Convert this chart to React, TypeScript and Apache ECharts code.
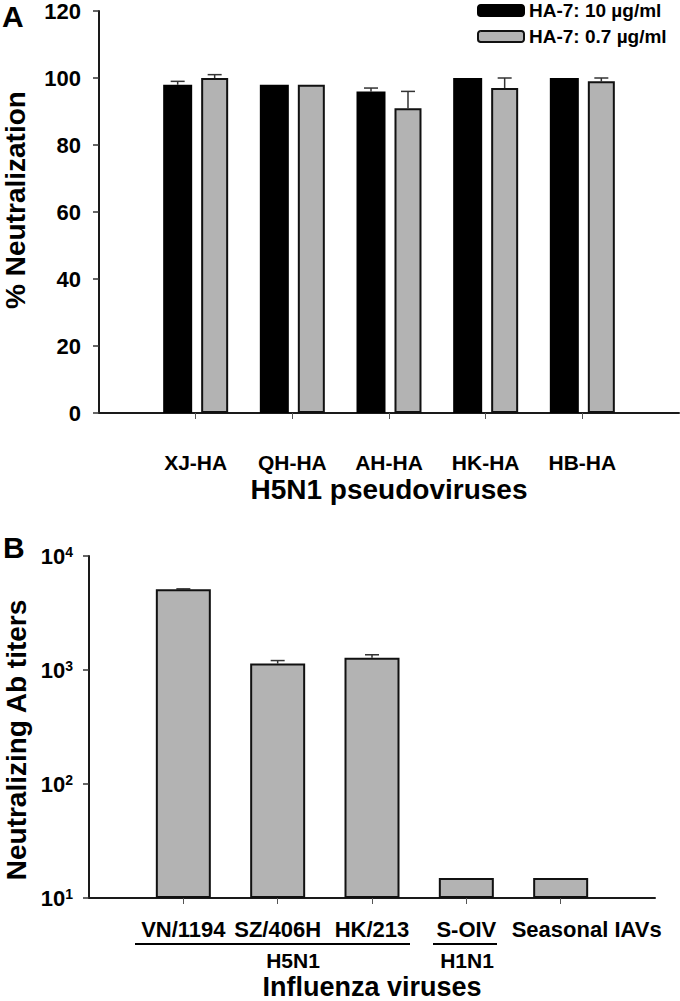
import React, { useEffect, useRef } from "react";
import * as echarts from "echarts";

// ---------- Panel A data ----------
const pseudoviruses = ["XJ-HA", "QH-HA", "AH-HA", "HK-HA", "HB-HA"];
const highDose = [98, 98, 96, 100, 100];
const highDoseErr = [1, 0, 1, 0, 0];
const lowDose = [100, 98, 91, 97, 99];
const lowDoseErr = [1, 0, 5, 3, 1];
const highDoseName = "HA-7: 10 µg/ml";
const lowDoseName = "HA-7: 0.7 µg/ml";
const panelAMin = 0;
const panelAMax = 120;
const panelAInterval = 20;

// ---------- Panel B data ----------
const influenzaViruses = ["VN/1194", "SZ/406H", "HK/213", "S-OIV", "Seasonal IAVs"];
const titers = [5120, 1140, 1280, 15, 15];
const titerErr = [30, 70, 80, 0, 0];
const panelBMin = 10;
const panelBMax = 10000;

const FONT = "'Liberation Sans', Arial, Helvetica, sans-serif";
const AXIS_COLOR = "#1a1a1a";
const GRAY = "#B3B3B3";

// categories padded with empty slots at both ends (axis spans 0..6)
const padCats = (c: string[]) => ["", ...c, ""];

function errSeries(
  values: number[],
  errs: number[],
  offset: number,
  xAxisIndex: number,
  yAxisIndex: number
) {
  return {
    type: "custom",
    xAxisIndex,
    yAxisIndex,
    z: 1,
    silent: true,
    encode: { x: 0, y: 1 },
    data: values.map((v, i) => [i + 1, v, errs[i]]),
    renderItem: (params: any, api: any) => {
      const idx = api.value(0);
      const v = api.value(1);
      const e = api.value(2);
      if (!e) return { type: "group", children: [] };
      const p0 = api.coord([idx, v]);
      const p1 = api.coord([idx, v + e]);
      const x = p0[0] + offset;
      const style = { stroke: "#333", lineWidth: 1.5 };
      return {
        type: "group",
        children: [
          { type: "line", shape: { x1: x, y1: p0[1], x2: x, y2: p1[1] }, style },
          { type: "line", shape: { x1: x - 7, y1: p1[1], x2: x + 7, y2: p1[1] }, style },
        ],
      };
    },
  };
}

export default function App() {
  const ref = useRef<HTMLDivElement>(null);

  useEffect(() => {
    if (!ref.current) return;
    const chart = echarts.init(ref.current, undefined, { renderer: "svg" });

    const blackW = 29;
    const grayW = 27;
    const gap = 0.31;
    const total = blackW * (1 + gap) + grayW;
    const blackOff = -total / 2 + blackW / 2;
    const grayOff = -total / 2 + blackW * (1 + gap) + grayW / 2;

    const tickShow = (i: number) => i > 0 && i < 6;

    const option: any = {
      animation: false,
      backgroundColor: "#fff",
      textStyle: { fontFamily: FONT },
      grid: [
        { left: 99, top: 7, width: 580, height: 406 },
        { left: 89, top: 556, width: 566, height: 346 },
      ],
      legend: {
        orient: "vertical",
        left: 477,
        top: 1,
        padding: 0,
        itemWidth: 46,
        itemHeight: 11,
        itemGap: 7,
        itemStyle: { borderWidth: 2 },
        textStyle: { fontFamily: FONT, fontWeight: "bold", fontSize: 19, color: "#000" },
        data: [highDoseName, lowDoseName],
      },
      xAxis: [
        {
          type: "category",
          gridIndex: 0,
          boundaryGap: false,
          data: padCats(pseudoviruses),
          axisLine: { lineStyle: { color: AXIS_COLOR, width: 2 } },
          axisTick: { show: true, interval: tickShow, length: 6, lineStyle: { color: "#555", width: 1 } },
          axisLabel: {
            interval: tickShow,
            margin: 39,
            fontFamily: FONT,
            fontWeight: "bold",
            fontSize: 21,
            color: "#000",
          },
          name: "H5N1 pseudoviruses",
          nameLocation: "middle",
          nameGap: 62,
          nameTextStyle: { fontFamily: FONT, fontWeight: "bold", fontSize: 28, color: "#000" },
          splitLine: { show: false },
        },
        {
          type: "category",
          gridIndex: 1,
          boundaryGap: false,
          data: padCats(influenzaViruses),
          axisLine: { lineStyle: { color: AXIS_COLOR, width: 2 } },
          axisTick: { show: true, interval: tickShow, length: 6, lineStyle: { color: "#555", width: 1 } },
          axisLabel: {
            interval: tickShow,
            margin: 20,
            fontFamily: FONT,
            fontWeight: "bold",
            fontSize: 22,
            color: "#000",
            formatter: (v: string) => (v === "Seasonal IAVs" ? "{o|" + v + "}" : v),
            rich: {
              o: {
                fontFamily: FONT,
                fontWeight: "bold",
                fontSize: 22,
                color: "#000",
                padding: [0, 0, 0, 52],
              },
            },
          },
          name: "Influenza viruses",
          nameLocation: "middle",
          nameGap: 75,
          nameTextStyle: { fontFamily: FONT, fontWeight: "bold", fontSize: 27, color: "#000" },
          splitLine: { show: false },
        },
      ],
      yAxis: [
        {
          type: "value",
          gridIndex: 0,
          min: panelAMin,
          max: panelAMax,
          interval: panelAInterval,
          axisLine: { show: true, lineStyle: { color: AXIS_COLOR, width: 2 } },
          axisTick: { show: true, length: 6, lineStyle: { color: "#333", width: 1.5 } },
          axisLabel: { margin: 18, fontFamily: FONT, fontWeight: "bold", fontSize: 22, color: "#000" },
          splitLine: { show: false },
        },
        {
          type: "log",
          logBase: 10,
          gridIndex: 1,
          min: panelBMin,
          max: panelBMax,
          startValue: panelBMin,
          axisLine: { show: true, lineStyle: { color: AXIS_COLOR, width: 2 } },
          axisTick: { show: true, length: 6, lineStyle: { color: "#333", width: 1.5 } },
          minorTick: { show: false },
          axisLabel: {
            margin: 16,
            formatter: (v: number) => "{b|10}{s|" + Math.round(Math.log10(v)) + "}",
            rich: {
              b: { fontFamily: FONT, fontWeight: "bold", fontSize: 22, color: "#000" },
              s: { fontFamily: FONT, fontWeight: "bold", fontSize: 14, color: "#000", verticalAlign: "top" },
            },
          },
          splitLine: { show: false },
        },
      ],
      series: [
        {
          name: highDoseName,
          type: "bar",
          xAxisIndex: 0,
          yAxisIndex: 0,
          z: 2,
          barWidth: blackW,
          barGap: gap * 100 + "%",
          data: highDose.map((v, i) => [i + 1, v]),
          itemStyle: { color: "#000", borderColor: "#000", borderWidth: 0 },
        },
        {
          name: lowDoseName,
          type: "bar",
          xAxisIndex: 0,
          yAxisIndex: 0,
          z: 2,
          barWidth: grayW,
          barGap: gap * 100 + "%",
          data: lowDose.map((v, i) => [i + 1, v]),
          itemStyle: { color: GRAY, borderColor: "#111", borderWidth: 2 },
        },
        errSeries(highDose, highDoseErr, blackOff, 0, 0),
        errSeries(lowDose, lowDoseErr, grayOff, 0, 0),
        {
          name: "titers",
          type: "bar",
          xAxisIndex: 1,
          yAxisIndex: 1,
          z: 2,
          clip: true,
          barWidth: 55,
          data: titers.map((v, i) => [i + 1, v]),
          itemStyle: { color: GRAY, borderColor: "#111", borderWidth: 2 },
        },
        errSeries(titers, titerErr, 0, 1, 1),
      ],
      graphic: [
        {
          type: "text",
          left: 2,
          top: 1,
          style: { text: "A", fontFamily: FONT, fontWeight: "bold", fontSize: 30, fill: "#000" },
        },
        {
          type: "text",
          left: 3,
          top: 532,
          style: { text: "B", fontFamily: FONT, fontWeight: "bold", fontSize: 30, fill: "#000" },
        },
        {
          type: "text",
          x: 15,
          y: 200,
          rotation: Math.PI / 2,
          style: {
            text: "% Neutralization",
            fontFamily: FONT,
            fontWeight: "bold",
            fontSize: 28,
            fill: "#000",
            align: "center",
            verticalAlign: "middle",
          },
        },
        {
          type: "text",
          x: 16,
          y: 740,
          rotation: Math.PI / 2,
          style: {
            text: "Neutralizing Ab titers",
            fontFamily: FONT,
            fontWeight: "bold",
            fontSize: 28,
            fill: "#000",
            align: "center",
            verticalAlign: "middle",
          },
        },
        {
          type: "line",
          shape: { x1: 135, y1: 944, x2: 410, y2: 944 },
          style: { stroke: "#000", lineWidth: 2 },
        },
        {
          type: "line",
          shape: { x1: 433, y1: 944, x2: 497, y2: 944 },
          style: { stroke: "#000", lineWidth: 2 },
        },
        {
          type: "text",
          x: 293,
          y: 960,
          style: {
            text: "H5N1",
            fontFamily: FONT,
            fontWeight: "bold",
            fontSize: 21,
            fill: "#000",
            align: "center",
            verticalAlign: "middle",
          },
        },
        {
          type: "text",
          x: 467,
          y: 960,
          style: {
            text: "H1N1",
            fontFamily: FONT,
            fontWeight: "bold",
            fontSize: 21,
            fill: "#000",
            align: "center",
            verticalAlign: "middle",
          },
        },
      ],
    };

    chart.setOption(option);
    return () => chart.dispose();
  }, []);

  return (
    <div
      ref={ref}
      style={{ position: "fixed", left: 0, top: 0, width: 680, height: 1001, background: "#fff" }}
    />
  );
}
